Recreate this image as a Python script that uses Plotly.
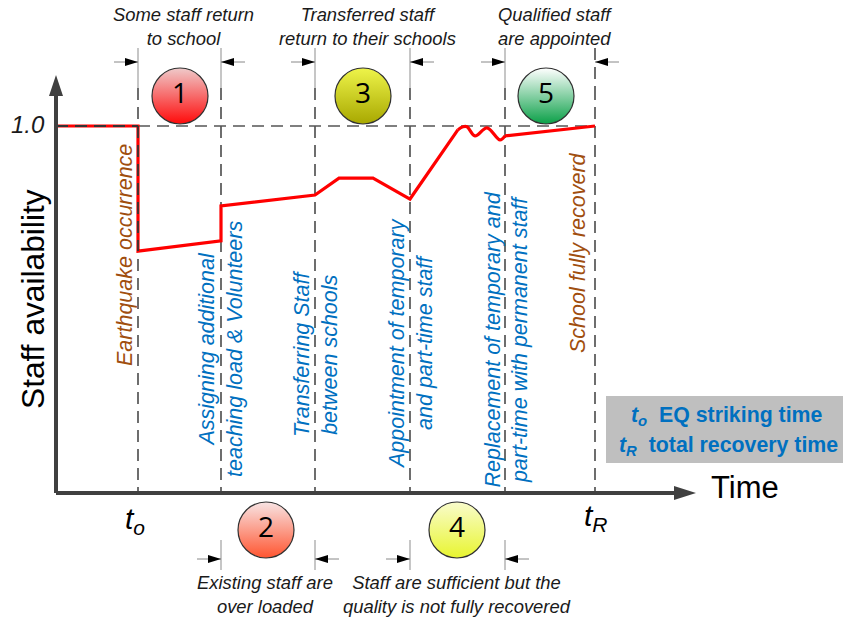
import plotly.graph_objects as go

# ---- data -----------------------------------------------------------------
time_main_a = [56, 138, 138, 221, 221, 315, 339, 373, 410, 458]
avail_main_a = [1.0, 1.0, 0.659, 0.687, 0.782, 0.812, 0.858, 0.858, 0.801, 0.99]
time_wiggle = [458, 463, 467, 475, 487, 500, 505]
avail_wiggle = [0.99, 0.998, 0.998, 0.973, 0.995, 0.962, 0.973]
time_main_b = [505, 595]
avail_main_b = [0.973, 1.0]

t_o = 138
phases = [221, 315, 410, 505]
t_R = 595

top_brackets = [(138, 221), (315, 410), (505, 595)]
bottom_brackets = [(221, 315), (410, 505)]

badge_labels = ["1", "2", "3", "4", "5"]
badge_x = [180, 266, 363, 457, 546]
badge_pos = ["top", "bottom", "top", "bottom", "top"]
badge_top = ["#EFCACA", "#F8E4E4", "#EEF44A", "#F9FCCC", "#FFFFFF"]
badge_bot = ["#FF0A0A", "#FF5530", "#A8A800", "#E8F530", "#0BA048"]

BLUE = "#0070C0"
BROWN = "#A04E0E"
GREY = "#555555"
FONT = "Liberation Sans"


def ypx(p):
    """vertical position on the picture -> availability scale"""
    return (493 - p) / 367


fig = go.Figure()


def line(xs, ys, color=GREY, width=1.7, dash=None, shape="linear"):
    fig.add_trace(go.Scatter(x=xs, y=ys, mode="lines", hoverinfo="skip",
                             line=dict(color=color, width=width, dash=dash, shape=shape)))


DASH = "12px,7px"
# reference lines
line([138, 595], [1, 1], dash=DASH)
for x in [t_o] + phases + [t_R]:
    line([x, x], [ypx(88), 0], dash=DASH)
for x in [t_o] + phases:
    line([x, x], [ypx(48), ypx(88)], color="#A0A0A0", width=1.2)
line([t_R, t_R], [ypx(48), ypx(88)], dash=DASH)

# recovery curve
line(time_main_a, avail_main_a, color="#FF0000", width=3.2)
line(time_wiggle, avail_wiggle, color="#FF0000", width=3.2, shape="spline")
line(time_main_b, avail_main_b, color="#FF0000", width=3.2)

# dashes seen over the red in the first stretch
line([56, 138], [1, 1], dash=DASH, color="#333333", width=1.8)
line([138, 138], [1, ypx(251)], dash=DASH, color="#333333", width=1.8)

# axes
line([56, 56], [0, ypx(94)], color="#404040", width=4)
line([56, 678], [0, 0], color="#404040", width=4)
shapes = [
    dict(type="path", xref="x", yref="y", line_width=0, fillcolor="#404040",
         path=f"M 49 {ypx(96)} L 56 {ypx(75)} L 63 {ypx(96)} Z"),
    dict(type="path", xref="x", yref="y", line_width=0, fillcolor="#404040",
         path=f"M 674 {ypx(486)} L 696 {ypx(493)} L 674 {ypx(500)} Z"),
    dict(type="rect", xref="x", yref="y", line_width=0, fillcolor="#BFBFBF",
         x0=606, x1=843, y0=ypx(396), y1=ypx(463)),
]


def bracket(x0, x1, yp, ticks=False):
    if ticks:
        line([x0, x0], [ypx(yp - 19), ypx(yp + 11)], color="#A0A0A0", width=1.2)
        line([x1, x1], [ypx(yp - 19), ypx(yp + 11)], color="#A0A0A0", width=1.2)
    line([x0 - 24, x0], [ypx(yp), ypx(yp)], color="#888888", width=1)
    line([x1, x1 + 24], [ypx(yp), ypx(yp)], color="#888888", width=1)
    shapes.append(dict(type="path", xref="x", yref="y", line_width=0, fillcolor="black",
                       path=f"M {x0-13} {ypx(yp-4)} L {x0} {ypx(yp)} L {x0-13} {ypx(yp+4)} Z"))
    shapes.append(dict(type="path", xref="x", yref="y", line_width=0, fillcolor="black",
                       path=f"M {x1+13} {ypx(yp-4)} L {x1} {ypx(yp)} L {x1+13} {ypx(yp+4)} Z"))


for a, b in top_brackets:
    bracket(a, b, 62)
for a, b in bottom_brackets:
    bracket(a, b, 559, ticks=True)

# numbered badges
badge_y = [ypx(96) if pos == "top" else ypx(530) for pos in badge_pos]
fig.add_trace(go.Scatter(
    x=badge_x, y=badge_y, mode="markers+text", text=badge_labels, textposition="middle center",
    textfont=dict(family="Open Sans", size=28, color="black"), hoverinfo="skip",
    marker=dict(size=56, color=badge_top, gradient=dict(type="vertical", color=badge_bot),
                line=dict(color="#303030", width=1.2))))

notes = []


def note(text, x, yp, size=18.4, color="#1A1A1A", angle=0, italic=True, bold=False, anchor="center"):
    if italic:
        text = f"<i>{text}</i>"
    if bold:
        text = f"<b>{text}</b>"
    notes.append(dict(text=text, x=x, y=ypx(yp), xref="x", yref="y", showarrow=False,
                      textangle=angle, xanchor=anchor, yanchor="middle", align="center",
                      font=dict(family=FONT, size=size, color=color)))


note("Some staff return<br>to school", 183.5, 26)
note("Transferred staff<br>return to their schools", 367, 26)
note("Qualified staff<br>are appointed", 555, 26)
note("Existing staff are<br>over loaded", 265, 594)
note("Staff are sufficient but the<br>quality is not fully recovered", 457, 594)

note("Earthquake occurrence", 125, 255, size=21.5, color=BROWN, angle=-90)
note("School fully recoverd", 578, 253, size=21.5, color=BROWN, angle=-90)
note("Assigning additional<br>teaching load &amp; Volunteers", 221, 349, size=21.5, color=BLUE, angle=-90)
note("Transferring Staff<br>between schools", 316, 354, size=21.5, color=BLUE, angle=-90)
note("Appointment of temporary<br>and part-time staff", 411, 344, size=21.5, color=BLUE, angle=-90)
note("Replacement of temporary and<br>part-time with permanent staff", 506.5, 340, size=21.5, color=BLUE, angle=-90)

note("Staff availability", 33, 299, size=31.7, color="black", angle=-90, italic=False)
note("Time", 745, 487, size=31, color="black", italic=False)
note("1.0", 28, 124, size=24, color="#1A1A1A")
note("t<sub>o</sub>", 135, 520, size=30, color="black")
note("t<sub>R</sub>", 596, 517, size=30, color="black")
note("<i>t<sub>o</sub></i>  EQ striking time", 727, 416, size=21.3, color=BLUE, italic=False, bold=True)
note("<i>t<sub>R</sub></i>  total recovery time", 728, 446, size=21.3, color=BLUE, italic=False, bold=True)

fig.update_layout(
    width=843, height=619, autosize=False, showlegend=False,
    margin=dict(l=0, r=0, t=0, b=0), plot_bgcolor="white", paper_bgcolor="white",
    xaxis=dict(range=[0, 843], visible=False, fixedrange=True),
    yaxis=dict(range=[ypx(619), ypx(0)], visible=False, fixedrange=True),
    shapes=shapes, annotations=notes,
)

fig.write_html("out.html", config={"displayModeBar": False},
               post_script="document.body.style.margin='0';document.body.style.overflow='hidden';")
